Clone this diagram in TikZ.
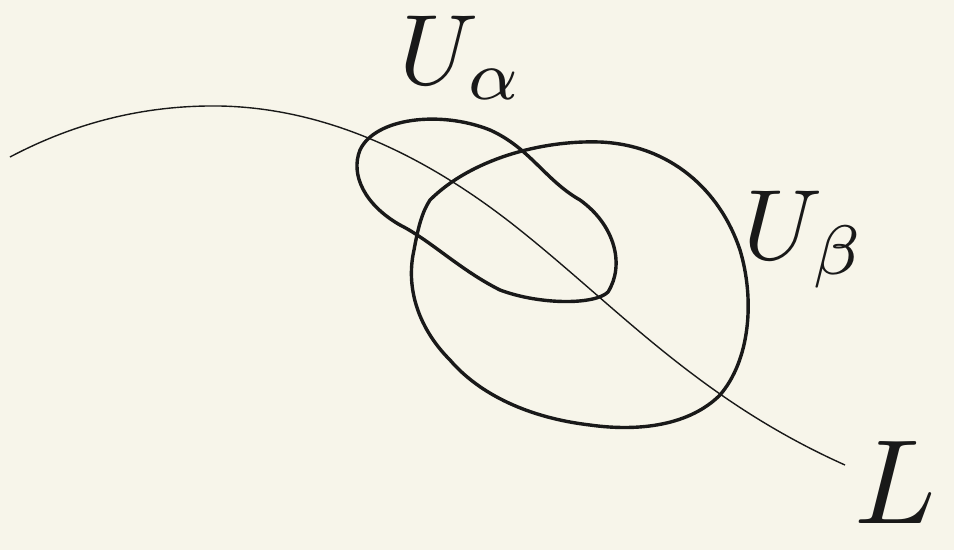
\documentclass[tikz,border=0pt]{standalone}
\begin{document}
\begin{tikzpicture}[x=1pt,y=-1pt,
  thickline/.style={line width=3.4pt,color=black!90,line join=round},
  thinline/.style={line width=1.4pt,color=black!90},
  lbl/.style={inner sep=0pt,text=black!90}]
\fill[fill={rgb,255:red,247;green,245;blue,234}] (0,0) rectangle (954,550);
\useasboundingbox (0,0) rectangle (954,550);
% curve L
\draw[thinline] (10,157) .. controls (80,120) and (150,105) .. (220,106)
  .. controls (320,108) and (420,150) .. (520,230)
  .. controls (620,310) and (700,400) .. (845,465);
% U alpha
\draw[thickline] (360,150) .. controls (375,118) and (440,110) .. (490,130)
  .. controls (530,148) and (545,180) .. (580,200)
  .. controls (615,225) and (625,265) .. (608,292)
  .. controls (595,305) and (540,305) .. (500,290)
  .. controls (460,270) and (430,240) .. (400,225)
  .. controls (365,205) and (350,175) .. cycle;
% U beta
\draw[thickline] (430,200) .. controls (470,160) and (540,140) .. (600,142)
  .. controls (670,145) and (720,190) .. (740,250)
  .. controls (755,300) and (750,360) .. (720,395)
  .. controls (690,425) and (640,432) .. (590,425)
  .. controls (530,418) and (480,395) .. (450,360)
  .. controls (420,330) and (405,290) .. (414,250)
  .. controls (418,228) and (422,212) .. cycle;
\node[lbl,scale=10] (ua) at (462,58) {$U_\alpha$};
\node[lbl,scale=10] (ub) at (805,240) {$U_\beta$};
\node[lbl,scale=12] (l) at (895,482) {$L$};
\end{tikzpicture}
\end{document}
